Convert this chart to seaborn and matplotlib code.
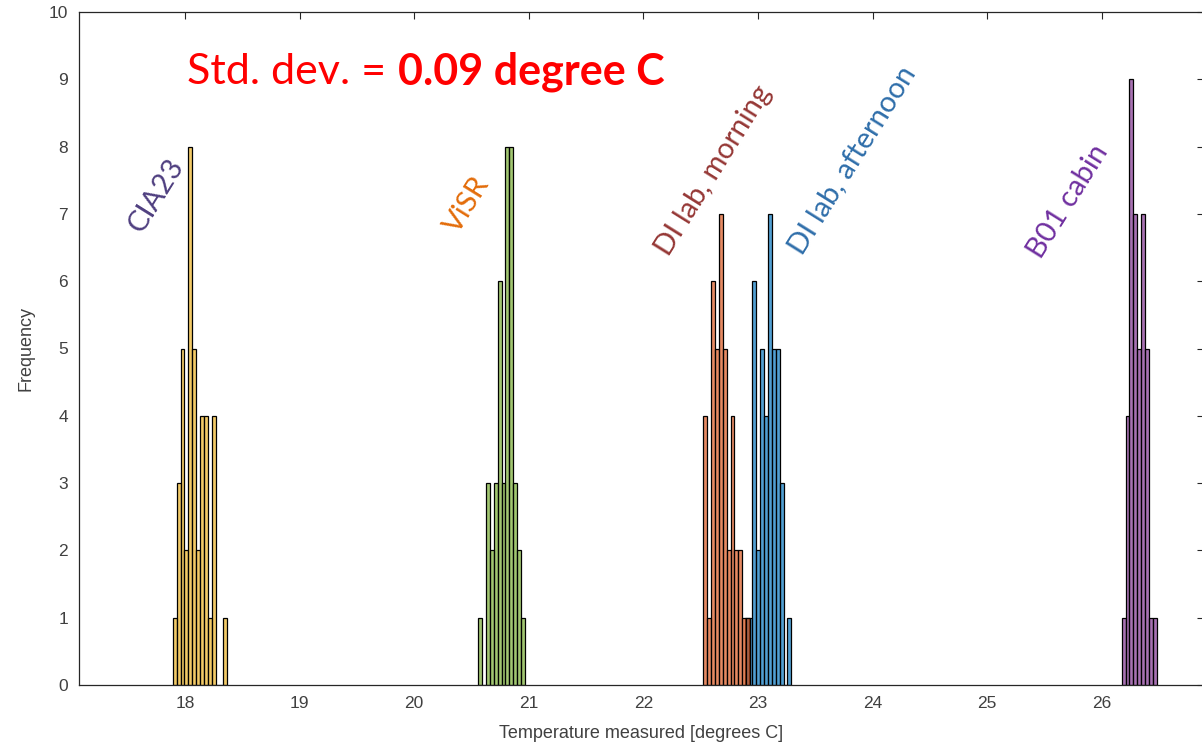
import pandas as pd
import matplotlib
matplotlib.use('Agg')
import matplotlib.pyplot as plt
import seaborn as sns

# histogram bins: lower edge of first bin + counts per bin
bin_width = 0.034

cia23_start = 17.893
cia23_counts = [1, 3, 5, 2, 8, 5, 2, 4, 4, 1, 4, 0, 0, 1]

visr_start = 20.559
visr_counts = [1, 0, 3, 2, 3, 6, 3, 8, 8, 3, 2, 1]

morning_start = 22.523
morning_counts = [4, 1, 6, 5, 7, 5, 2, 4, 2, 2, 1, 1]

afternoon_start = 22.884
afternoon_counts = [1, 1, 6, 2, 5, 4, 7, 5, 5, 3, 0, 1]

b01_start = 26.174
b01_counts = [1, 4, 9, 7, 5, 7, 5, 1, 1]

x_ticks = [18, 19, 20, 21, 22, 23, 24, 25, 26]
y_ticks = [0, 1, 2, 3, 4, 5, 6, 7, 8, 9, 10]

# (label, x, y) in data units
labels = [
    ('CIA23', 17.75, 7.27, '#4F3F80'),
    ('ViSR', 20.46, 7.13, '#E36C0A'),
    ('DI lab, morning', 22.61, 7.65, '#953735'),
    ('DI lab, afternoon', 23.82, 7.80, '#2F6EAA'),
    ('B01 cabin', 25.71, 7.18, '#7030A0'),
]

sns.set_theme(style='white')
plt.rcParams['font.family'] = ['Liberation Sans', 'DejaVu Sans']

fig = plt.figure(figsize=(12.02, 7.48), dpi=100)
ax = fig.add_axes([79 / 1202, 63 / 748, (1204 - 79) / 1202, (685 - 12) / 748])

# same drawing order as matlab colour order
series = [
    (afternoon_start, afternoon_counts, (0.0, 0.447, 0.741)),
    (morning_start, morning_counts, (0.85, 0.325, 0.098)),
    (cia23_start, cia23_counts, (0.929, 0.694, 0.125)),
    (b01_start, b01_counts, (0.494, 0.184, 0.556)),
    (visr_start, visr_counts, (0.466, 0.674, 0.188)),
]
for start, counts, col in series:
    edges = [start + bin_width * i for i in range(len(counts) + 1)]
    df = pd.DataFrame({'temp': [e + bin_width / 2 for e in edges[:-1]],
                       'count': counts})
    sns.histplot(data=df, x='temp', weights='count', bins=edges, color=col,
                 alpha=0.68, edgecolor='black', linewidth=0.9, ax=ax)

ax.set_xlim(17.075, 26.893)
ax.set_ylim(0, 10)
ax.set_xticks(x_ticks)
ax.set_yticks(y_ticks)
ax.tick_params(direction='in', top=True, right=True, length=5, width=0.8,
               colors='#262626', labelsize=12.5, pad=8)
ax.tick_params(labelcolor='#404040')
for sp in ax.spines.values():
    sp.set_visible(True)
    sp.set_color('#262626')
    sp.set_linewidth(0.9)
ax.set_xlabel('Temperature measured [degrees C]', fontsize=13, color='#404040', labelpad=10)
ax.set_ylabel('Frequency', fontsize=13, color='#404040', labelpad=10)

for txt, x, y, c in labels:
    ax.text(x, y, txt, rotation=58, ha='center', va='center', rotation_mode='anchor',
            fontsize=21, color=c, family=['Lato', 'DejaVu Sans'])

fig.text(187 / 1202, 1 - 72 / 748, 'Std. dev. =', fontsize=31, color='#FF0000',
         ha='left', va='center', family=['Lato', 'DejaVu Sans'])
fig.text(398 / 1202, 1 - 72 / 748, '0.09 degree C', fontsize=31, color='#FF0000',
         fontweight='bold', ha='left', va='center', family=['Lato', 'DejaVu Sans'])

fig.savefig('out.png', dpi=100)
